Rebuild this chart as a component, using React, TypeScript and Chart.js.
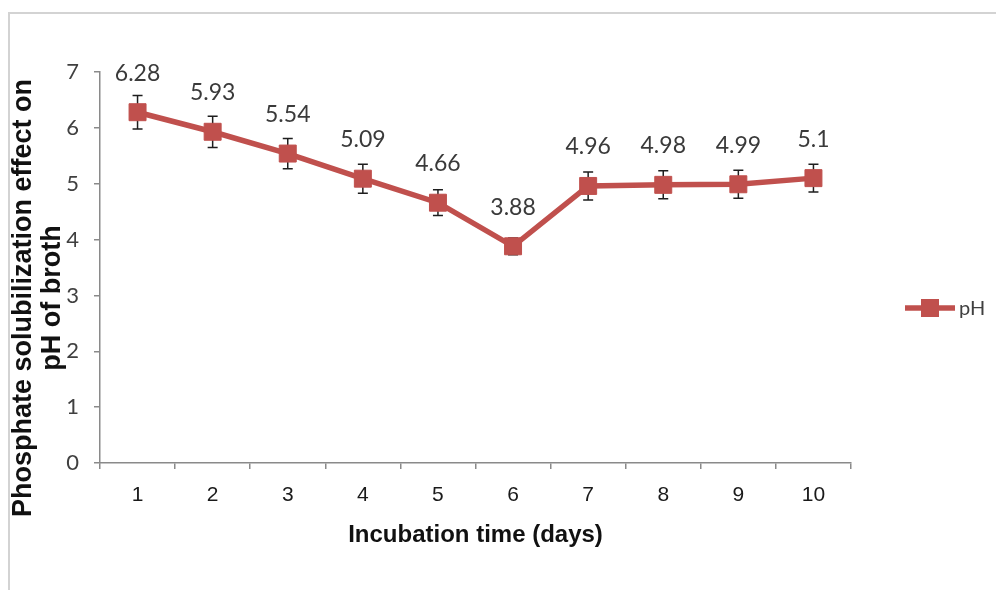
import React, { useEffect, useRef } from "react";
import { Chart, registerables } from "chart.js";

Chart.register(...registerables);

const days = ["1", "2", "3", "4", "5", "6", "7", "8", "9", "10"];
const phValues = [6.28, 5.93, 5.54, 5.09, 4.66, 3.88, 4.96, 4.98, 4.99, 5.1];
const phErrors = [0.3, 0.28, 0.27, 0.26, 0.23, 0.15, 0.25, 0.25, 0.25, 0.25];
const seriesName = "pH";
const xTitle = "Incubation time (days)";
const yTitleLines = ["Phosphate solubilization effect on", "pH of broth"];

const RED = "#C0504D";

const errorBarPlugin = {
  id: "errorBars",
  beforeDatasetsDraw(chart: any) {
    const { ctx } = chart;
    const xs = chart.scales.x;
    const ys = chart.scales.y;
    ctx.save();
    ctx.strokeStyle = "#1e1e1e";
    ctx.lineWidth = 1.5;
    phValues.forEach((v, i) => {
      const x = xs.getPixelForValue(i);
      const yt = ys.getPixelForValue(v + phErrors[i]);
      const yb = ys.getPixelForValue(v - phErrors[i]);
      ctx.beginPath();
      ctx.moveTo(x, yt);
      ctx.lineTo(x, yb);
      ctx.moveTo(x - 5, yt);
      ctx.lineTo(x + 5, yt);
      ctx.moveTo(x - 5, yb);
      ctx.lineTo(x + 5, yb);
      ctx.stroke();
    });
    ctx.restore();
  },
};

const labelPlugin = {
  id: "dataLabels",
  afterDatasetsDraw(chart: any) {
    const { ctx } = chart;
    const meta = chart.getDatasetMeta(0);
    ctx.save();
    ctx.font = "23px Lato";
    ctx.fillStyle = "#3a3a3a";
    ctx.textAlign = "center";
    ctx.textBaseline = "middle";
    meta.data.forEach((pt: any, i: number) => {
      ctx.fillText(String(phValues[i]), pt.x, pt.y - 39);
    });
    ctx.restore();
  },
};

const decorPlugin = {
  id: "decor",
  afterDraw(chart: any) {
    const { ctx } = chart;
    ctx.save();
    // y title
    ctx.fillStyle = "#111";
    ctx.font = "bold 27px 'Liberation Sans', Arial";
    ctx.textAlign = "center";
    ctx.textBaseline = "middle";
    const cy = 290;
    yTitleLines.forEach((line, k) => {
      ctx.save();
      ctx.translate(16 + k * 29, cy);
      ctx.rotate(-Math.PI / 2);
      ctx.fillText(line, 0, 0);
      ctx.restore();
    });
    // legend
    const ly = 300;
    ctx.strokeStyle = RED;
    ctx.lineWidth = 5.5;
    ctx.beginPath();
    ctx.moveTo(897, ly);
    ctx.lineTo(947, ly);
    ctx.stroke();
    ctx.fillStyle = RED;
    ctx.fillRect(922 - 9, ly - 9, 18, 18);
    ctx.fillStyle = "#404040";
    ctx.font = "20px Lato";
    ctx.textAlign = "left";
    ctx.fillText(seriesName, 951, ly + 1);
    ctx.restore();
  },
};

export default function App() {
  const ref = useRef<HTMLCanvasElement>(null);
  useEffect(() => {
    if (!ref.current) return;
    const chart = new Chart(ref.current, {
      type: "line",
      data: {
        labels: days,
        datasets: [
          {
            label: seriesName,
            data: phValues,
            borderColor: RED,
            backgroundColor: RED,
            borderWidth: 5.5,
            pointStyle: "rect",
            pointRadius: 12,
            pointBorderWidth: 1,
            pointBackgroundColor: RED,
            pointBorderColor: RED,
            tension: 0,
          },
        ],
      },
      options: {
        animation: false,
        responsive: true,
        maintainAspectRatio: false,
        layout: { padding: { top: 64, left: 0, right: 153, bottom: 0 } },
        plugins: {
          legend: { display: false },
          tooltip: { enabled: false },
        },
        scales: {
          x: {
            type: "category",
            offset: true,
            grid: {
              display: true,
              drawOnChartArea: false,
              drawTicks: true,
              tickLength: 6,
              offset: true,
              color: "#8a8a8a",
              lineWidth: 1.5,
            },
            border: { display: true, color: "#8a8a8a", width: 1.5 },
            ticks: {
              color: "#1a1a1a",
              font: { family: "'Liberation Sans', Arial", size: 21 },
              padding: 14,
              maxRotation: 0,
            },
            title: {
              display: true,
              text: xTitle,
              color: "#111",
              font: { family: "'Liberation Sans', Arial", size: 24, weight: "bold" },
              padding: { top: 0, bottom: 40 },
            },
            afterFit(scale: any) {
              scale.height = 127;
            },
          },
          y: {
            min: 0,
            max: 7,
            ticks: {
              stepSize: 1,
              color: "#404040",
              font: { family: "Lato", size: 22 },
              padding: 15,
            },
            grid: {
              display: true,
              drawOnChartArea: false,
              drawTicks: true,
              tickLength: 6,
              color: "#8a8a8a",
              lineWidth: 1.5,
            },
            border: { display: true, color: "#8a8a8a", width: 1.5 },
            afterFit(scale: any) {
              scale.width = 92;
            },
          },
        },
      },
      plugins: [errorBarPlugin, labelPlugin, decorPlugin],
    });
    return () => chart.destroy();
  }, []);

  return (
    <div style={{ position: "relative", width: 996, height: 582, overflow: "hidden" }}>
      <div
        style={{
          position: "absolute",
          left: 0,
          top: 4,
          width: 1100,
          height: 700,
          borderTop: "2px solid #d3d3d3",
          borderLeft: "2px solid #d3d3d3",
        }}
      />
      <div style={{ position: "absolute", left: 0, top: 0, width: 996, height: 582 }}>
        <canvas ref={ref} />
      </div>
    </div>
  );
}
